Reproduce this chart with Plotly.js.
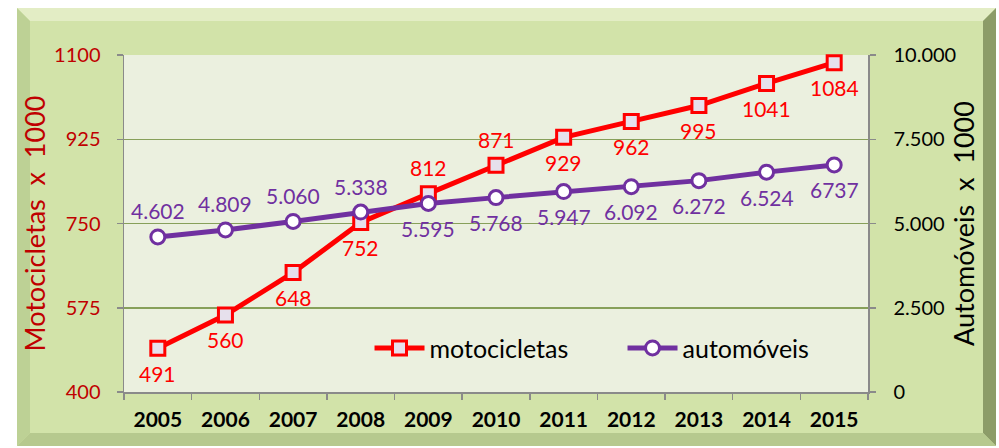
<!DOCTYPE html>
<html>
<head>
<meta charset="utf-8">
<script src="https://cdn.plot.ly/plotly-3.0.1.min.js"></script>
<style>html,body{margin:0;padding:0;background:#fff;}#chart{width:999px;height:448px;}</style>
</head>
<body>
<div id="chart"></div>
<script>
var years = ['2005','2006','2007','2008','2009','2010','2011','2012','2013','2014','2015'];
var motocicletas = [491, 560, 648, 752, 812, 871, 929, 962, 995, 1041, 1084];
var motoLabels = ['491','560','648','752','812','871','929','962','995','1041','1084'];
var motoLabelSide = ['below','below','below','below','above','above','below','below','below','below','below'];
var automoveis = [4602, 4809, 5060, 5338, 5595, 5768, 5947, 6092, 6272, 6524, 6737];
var autoLabels = ['4.602','4.809','5.060','5.338','5.595','5.768','5.947','6.092','6.272','6.524','6737'];
var autoLabelSide = ['above','above','above','above','below','below','below','below','below','below','below'];
var leftTicks = [400, 575, 750, 925, 1100];
var rightTicks = [0, 2500, 5000, 7500, 10000];

var W = 999, H = 448, ML = 124, MR = 131, MT = 55, MB = 56;
var PW = W - ML - MR, PH = H - MT - MB;
function px(x){ return (x - ML) / PW; }
function py(y){ return (H - MB - y) / PH; }
function path(pts){
  return 'M' + pts.map(function(p){ return px(p[0]) + ',' + py(p[1]); }).join(' L') + ' Z';
}
var L = 17, R = 996, T = 8, B = 446, bv = 13;
var shapes = [
  {type:'path', xref:'paper', yref:'paper', layer:'below', path: path([[L,T],[R,T],[R,B],[L,B]]), fillcolor:'#D2E3A9', line:{width:0}},
  {type:'path', xref:'paper', yref:'paper', layer:'below', path: path([[L,T],[R,T],[R-bv,T+bv],[L+bv,T+bv]]), fillcolor:'#E3EDC5', line:{width:0}},
  {type:'path', xref:'paper', yref:'paper', layer:'below', path: path([[L,T],[L+bv,T+bv],[L+bv,B-bv],[L,B]]), fillcolor:'#BDD195', line:{width:0}},
  {type:'path', xref:'paper', yref:'paper', layer:'below', path: path([[R,T],[R,B],[R-bv,B-bv],[R-bv,T+bv]]), fillcolor:'#8C9C68', line:{width:0}},
  {type:'path', xref:'paper', yref:'paper', layer:'below', path: path([[L,B],[L+bv,B-bv],[R-bv,B-bv],[R,B]]), fillcolor:'#B6C98E', line:{width:0}},
  {type:'rect', xref:'paper', yref:'paper', layer:'below', x0:0, x1:1, y0:0, y1:1, fillcolor:'#EBF0DF', line:{width:0}}
];

var font = 'Lato, Carlito, Calibri, "Open Sans", sans-serif';
var labelSize = 21;

var annotations = [];
function addLabels(ys, labels, sides, yref, color){
  for (var i = 0; i < ys.length; i++){
    annotations.push({
      x: i, y: ys[i], xref: 'x', yref: yref, text: labels[i], showarrow: false,
      xanchor: 'center', yanchor: 'middle', yshift: sides[i] === 'above' ? 26 : -25,
      font: {family: font, size: labelSize, color: color}
    });
  }
}
addLabels(motocicletas, motoLabels, motoLabelSide, 'y', '#FF0000');
addLabels(automoveis, autoLabels, autoLabelSide, 'y2', '#7030A0');

var traces = [
  {
    x: years, y: motocicletas, name: 'motocicletas', type: 'scatter', mode: 'lines+markers',
    yaxis: 'y',
    line: {color: '#FF0000', width: 5},
    marker: {symbol: 'square', size: 14, color: '#E6E0EC', line: {color: '#FF0000', width: 3}},
    cliponaxis: false
  },
  {
    x: years, y: automoveis, name: 'automóveis', type: 'scatter', mode: 'lines+markers',
    yaxis: 'y2',
    line: {color: '#7030A0', width: 5},
    marker: {symbol: 'circle', size: 14, color: '#FFFFFF', line: {color: '#7030A0', width: 3}},
    cliponaxis: false
  }
];

var layout = {
  width: W, height: H,
  margin: {l: ML, r: MR, t: MT, b: MB, pad: 0},
  paper_bgcolor: '#FFFFFF',
  plot_bgcolor: 'rgba(0,0,0,0)',
  separators: ',.',
  font: {family: font, color: '#000'},
  showlegend: true,
  legend: {
    orientation: 'h', x: 0.33, xanchor: 'left', y: 0.13, yanchor: 'middle',
    bgcolor: 'rgba(0,0,0,0)', font: {family: font, size: 25, color: '#000'},
    entrywidth: 188, entrywidthmode: 'pixels', itemwidth: 50
  },
  xaxis: {
    type: 'category', range: [-0.5, 10.5],
    showline: true, linecolor: '#8A8A8A', linewidth: 1.5,
    ticks: 'outside', tickson: 'boundaries', ticklen: 6, tickcolor: '#8A8A8A', tickwidth: 1.5,
    showgrid: false, zeroline: false, ticklabelstandoff: 8,
    tickfont: {family: font, size: 21, color: '#000', weight: 'bold'}
  },
  yaxis: {
    range: [400, 1100], tickvals: leftTicks, tickformat: 'd', automargin: true,
    showline: true, linecolor: '#8A8A8A', linewidth: 1.5,
    ticks: 'outside', ticklen: 6, tickcolor: '#8A8A8A', tickwidth: 1.5,
    showgrid: true, gridcolor: '#87A05A', gridwidth: 1.5, zeroline: false, ticklabelstandoff: 12,
    tickfont: {family: font, size: 20, color: '#C00000'},
    title: {text: 'Motocicletas  x  1000', font: {family: font, size: 27, color: '#C00000'}, standoff: 0}
  },
  yaxis2: {
    range: [0, 10000], tickvals: rightTicks, tickformat: ',d', automargin: true,
    overlaying: 'y', side: 'right',
    showline: true, linecolor: '#8A8A8A', linewidth: 1.5,
    ticks: 'outside', ticklen: 6, tickcolor: '#8A8A8A', tickwidth: 1.5,
    showgrid: false, zeroline: false, ticklabelstandoff: 14,
    tickfont: {family: font, size: 20, color: '#000'},
    title: {text: 'Automóveis  x  1000', font: {family: font, size: 27, color: '#000'}, standoff: 0}
  },
  shapes: shapes,
  annotations: annotations
};

Plotly.newPlot('chart', traces, layout, {displayModeBar: false, staticPlot: true});
</script>
</body>
</html>
